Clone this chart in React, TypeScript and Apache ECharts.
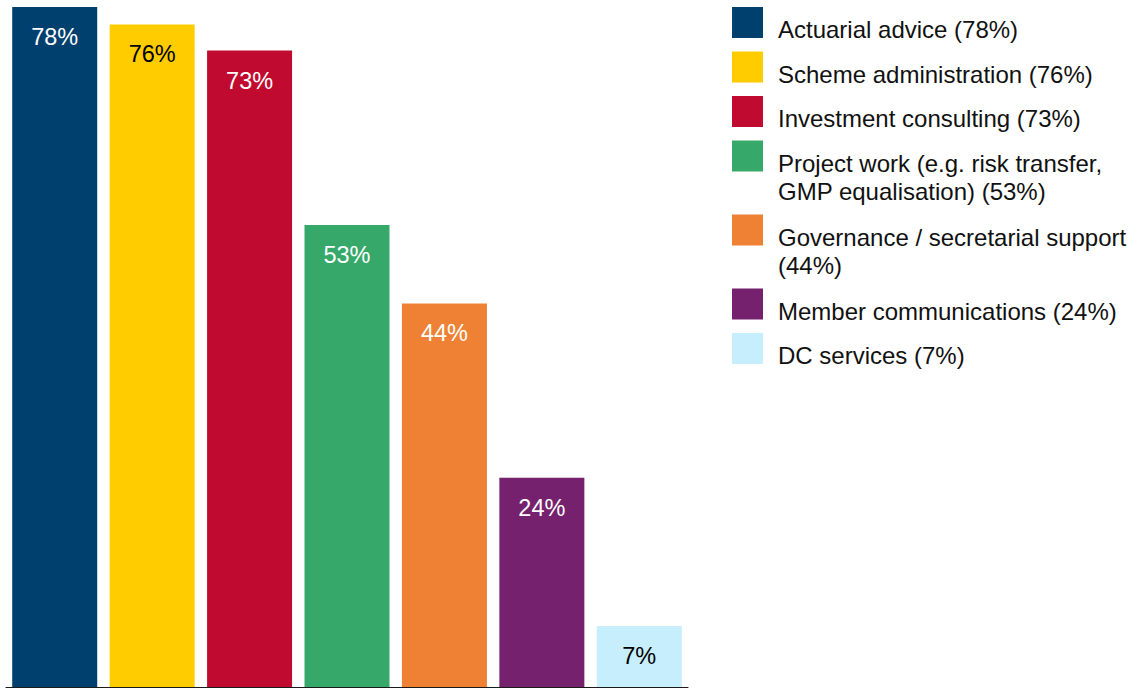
import React, { useEffect, useRef } from "react";
import * as echarts from "echarts";

const categories = [
  "Actuarial advice",
  "Scheme administration",
  "Investment consulting",
  "Project work (e.g. risk transfer, GMP equalisation)",
  "Governance / secretarial support",
  "Member communications",
  "DC services",
];
const values = [78, 76, 73, 53, 44, 24, 7];
const legendLines = [
  ["Actuarial advice (78%)"],
  ["Scheme administration (76%)"],
  ["Investment consulting (73%)"],
  ["Project work (e.g. risk transfer,", "GMP equalisation) (53%)"],
  ["Governance / secretarial support", "(44%)"],
  ["Member communications (24%)"],
  ["DC services (7%)"],
];

const palette = ["#00406E", "#FFCC00", "#C10A2F", "#36A96A", "#EE8133", "#76216E", "#C7EEFC"];
const labelColors = ["#FFFFFF", "#000000", "#FFFFFF", "#FFFFFF", "#FFFFFF", "#FFFFFF", "#000000"];
const FONT = "'Liberation Sans', Arial, Helvetica, sans-serif";

export default function App() {
  const ref = useRef<HTMLDivElement>(null);
  useEffect(() => {
    if (!ref.current) return;
    const chart = echarts.init(ref.current, undefined, { renderer: "svg" });

    const graphic: any[] = [];
    let y = 7;
    legendLines.forEach((lines, i) => {
      graphic.push({
        type: "rect",
        left: 732,
        top: y,
        shape: { width: 31, height: 31 },
        style: { fill: palette[i] },
      });
      graphic.push({
        type: "text",
        x: 778,
        y: y + 8.6,
        style: {
          text: lines.join("\n"),
          font: `24px ${FONT}`,
          fill: "#111111",
          lineHeight: 28,
          verticalAlign: "top",
          align: "left",
        },
      });
      y += 44.5 + 29.5 * (lines.length - 1);
    });

    chart.setOption({
      animation: false,
      grid: { left: 6, right: 453, top: 7, bottom: 1, containLabel: false },
      xAxis: {
        type: "category",
        data: categories,
        axisLine: { show: true, lineStyle: { color: "#1a1a1a", width: 1 } },
        axisTick: { show: false },
        axisLabel: { show: false },
      },
      yAxis: {
        type: "value",
        min: 0,
        max: 78,
        show: false,
        splitLine: { show: false },
      },
      series: [
        {
          type: "bar",
          barWidth: 85,
          data: values.map((v, i) => ({
            value: v,
            itemStyle: { color: palette[i] },
            label: { color: labelColors[i] },
          })),
          label: {
            show: true,
            position: "insideTop",
            distance: 18,
            formatter: "{c}%",
            fontSize: 23.5,
            fontFamily: FONT,
          },
        },
      ],
      graphic,
    });
    return () => chart.dispose();
  }, []);
  return (
    <div
      ref={ref}
      style={{ position: "absolute", left: 0, top: 0, width: 1141, height: 688, background: "#fff" }}
    />
  );
}
